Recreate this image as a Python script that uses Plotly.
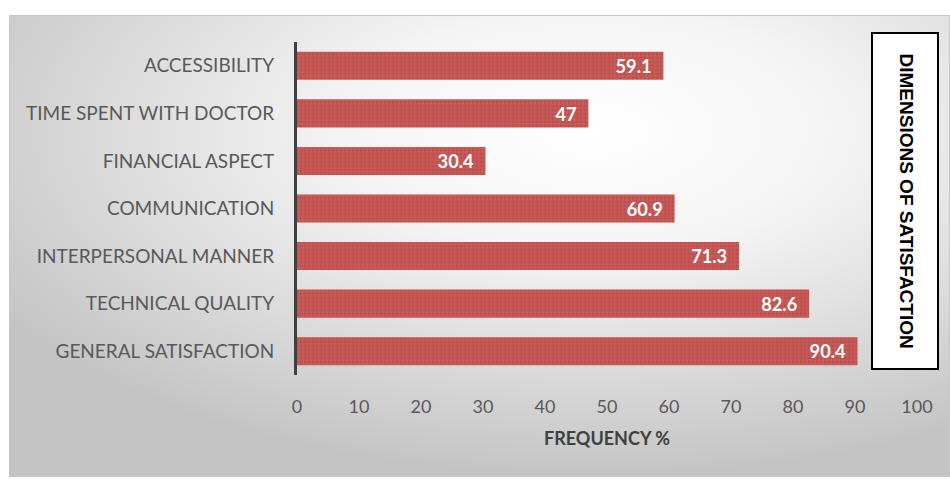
import plotly.graph_objects as go
import urllib.parse

categories = ["GENERAL SATISFACTION", "TECHNICAL QUALITY", "INTERPERSONAL MANNER",
              "COMMUNICATION", "FINANCIAL ASPECT", "TIME SPENT WITH DOCTOR", "ACCESSIBILITY"]
values = [90.4, 82.6, 71.3, 60.9, 30.4, 47, 59.1]
labels = ["90.4", "82.6", "71.3", "60.9", "30.4", "47", "59.1"]
x_ticks = [0, 10, 20, 30, 40, 50, 60, 70, 80, 90, 100]

W, H = 950, 479
ML, MR, MT, MB = 297, 33, 42, 104
PW, PH = W - ML - MR, H - MT - MB

def px(x):
    return (x - ML) / PW

def py(y):
    return 1 - (y - MT) / PH

svg = ('<svg xmlns="http://www.w3.org/2000/svg" width="941" height="462" viewBox="0 0 941 462" preserveAspectRatio="none">'
       '<defs><radialGradient id="g" cx="0.62" cy="0.25" r="0.75" gradientUnits="objectBoundingBox">'
       '<stop offset="0" stop-color="#ffffff"/><stop offset="0.35" stop-color="#f4f4f4"/>'
       '<stop offset="1" stop-color="#c4c4c4"/></radialGradient></defs>'
       '<rect x="0" y="0" width="941" height="462" fill="url(#g)"/>'
       '<rect x="0.5" y="0.5" width="940" height="461" fill="none" stroke="#c8c8c8" stroke-width="1"/></svg>')
src = "data:image/svg+xml;charset=utf-8," + urllib.parse.quote(svg)

pad = "\u00a0\u00a0"
fig = go.Figure()
fig.add_trace(go.Bar(
    y=categories, x=values, orientation="h",
    width=0.59,
    marker=dict(color="#C0504D", line=dict(width=0),
                pattern=dict(shape="+", fgcolor="rgba(240,170,170,0.55)", bgcolor="#C0504D",
                             size=4, solidity=0.25)),
    text=[l + pad for l in labels], textposition="inside", insidetextanchor="end",
    textfont=dict(family="Lato", size=19, color="white", weight="bold"),
    hoverinfo="skip",
))

fig.update_layout(
    width=W, height=H,
    margin=dict(l=ML, r=MR, t=MT, b=MB),
    paper_bgcolor="white", plot_bgcolor="rgba(0,0,0,0)",
    showlegend=False,
    bargap=0.41,
    xaxis=dict(range=[0, 100], tickvals=x_ticks, showgrid=False, zeroline=False,
               showline=False, ticks="", ticklabelstandoff=19,
               tickfont=dict(family="Lato", size=18, color="#595959"),
               title=dict(text="<b>FREQUENCY %</b>", standoff=16,
                          font=dict(family="Lato", size=18, color="#404040"))),
    yaxis=dict(showgrid=False, zeroline=False, showline=True, linecolor="#404040",
               linewidth=3, ticks="", ticklabelstandoff=16,
               tickfont=dict(family="Lato", size=19, color="#595959")),
    images=[dict(source=src, xref="paper", yref="paper",
                 x=px(9), y=py(15), sizex=px(950) - px(9), sizey=py(15) - py(477),
                 xanchor="left", yanchor="top", sizing="stretch", layer="below")],
    shapes=[dict(type="rect", xref="paper", yref="paper",
                 x0=px(872), x1=px(938), y0=py(369), y1=py(33),
                 fillcolor="white", line=dict(color="black", width=2))],
    annotations=[dict(text="<b>DIMENSIONS OF SATISFACTION</b>", xref="paper", yref="paper",
                      x=px(919), y=py(201), showarrow=False, textangle=90,
                      font=dict(family="Liberation Sans", size=19, color="black"))],
)

fig.write_html("out.html")
